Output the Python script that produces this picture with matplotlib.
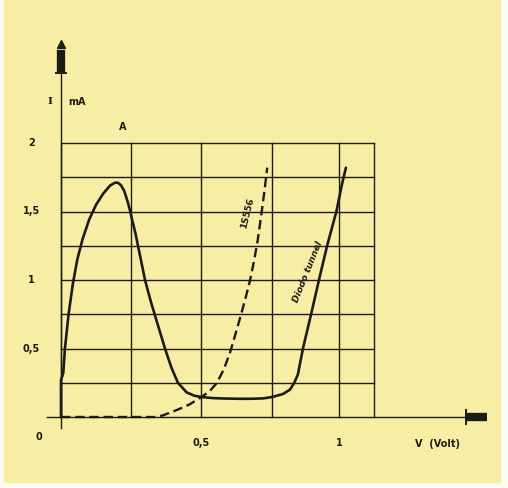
import numpy as np
import matplotlib.pyplot as plt
from matplotlib.patches import Rectangle

# tunnel diode characteristic (V in volt, I in mA)
tunnel_v = [0.0, 0.0, 0.008, 0.014, 0.027, 0.042, 0.058, 0.077, 0.100, 0.125,
            0.150, 0.175, 0.192, 0.203, 0.214, 0.225, 0.236, 0.244, 0.252,
            0.265, 0.280, 0.299, 0.320, 0.345, 0.370, 0.393, 0.416, 0.447,
            0.475, 0.500, 0.540, 0.580, 0.630, 0.680, 0.720, 0.752, 0.790,
            0.815, 0.830, 0.843, 0.861, 0.890, 0.918, 0.947, 0.980, 1.000, 1.014]
tunnel_i = [0.0, 0.27, 0.32, 0.5, 0.75, 0.97, 1.15, 1.30, 1.44, 1.55,
            1.63, 1.69, 1.71, 1.71, 1.69, 1.65, 1.58, 1.52, 1.45,
            1.34, 1.19, 1.0, 0.84, 0.67, 0.5, 0.36, 0.25, 0.18,
            0.155, 0.146, 0.138, 0.135, 0.133, 0.133, 0.136, 0.146, 0.168,
            0.2, 0.25, 0.31, 0.5, 0.75, 1.0, 1.25, 1.5, 1.7, 1.82]

# ordinary diode 1S556
diode_v = [0.0, 0.333, 0.360, 0.411, 0.456, 0.5, 0.53, 0.555, 0.580, 0.603,
           0.623, 0.641, 0.657, 0.673, 0.687, 0.700, 0.713, 0.724, 0.734]
diode_i = [0.0, 0.0, 0.01, 0.05, 0.09, 0.146, 0.19, 0.25, 0.35, 0.48,
           0.62, 0.75, 0.87, 1.0, 1.14, 1.29, 1.48, 1.65, 1.82]

grid_v = [0.0, 0.25, 0.5, 0.75, 0.99, 1.115]
grid_i = [0.0, 0.25, 0.5, 0.75, 1.0, 1.25, 1.5, 1.75, 2.0]

y_ticks = [2.0, 1.5, 1.0, 0.5]
y_labels = ['2', '1,5', '1', '0,5']
x_ticks = [0.5, 0.99]
x_labels = ['0,5', '1']

paper = '#f8eda4'
ink = '#1c1c16'

fig = plt.figure(figsize=(5.08, 4.88), dpi=100, facecolor='#fbfaf3')
fig.patches.append(Rectangle((4 / 508, 6 / 488), 496 / 508, 482 / 488,
                             transform=fig.transFigure, color=paper, zorder=-1))
ax = fig.add_axes([0, 0, 1, 1])
ax.set_xlim(-61 / 281, 447 / 281)
ax.set_ylim(-71 / 137, 417 / 137)
ax.axis('off')

# grid
for v in grid_v:
    ax.plot([v, v], [0, 2.0], color=ink, lw=1.0, zorder=1)
for i in grid_i[1:]:
    ax.plot([0, grid_v[-1]], [i, i], color=ink, lw=1.0, zorder=1)

# axes with arrow heads
ax.plot([-0.05, 1.44], [0, 0], color=ink, lw=1.0, zorder=2)
ax.plot([0, 0], [-0.08, 2.52], color=ink, lw=1.0, zorder=2)
ax.plot([0, 0], [2.52, 2.68], color=ink, lw=6, solid_capstyle='butt', zorder=3)
ax.plot([0], [2.72], marker='^', ms=6, color=ink, zorder=3)
ax.plot([-0.018, 0.018], [2.51, 2.51], color=ink, lw=1.4, zorder=3)
ax.plot([1.44, 1.515], [0, 0], color=ink, lw=6, solid_capstyle='butt', zorder=3)
ax.plot([1.44, 1.44], [-0.05, 0.05], color=ink, lw=1.4, zorder=3)

# curves
ax.plot(tunnel_v, tunnel_i, color=ink, lw=1.9, zorder=4,
        solid_joinstyle='round', solid_capstyle='round')
ax.plot(diode_v, diode_i, color=ink, lw=1.7, ls=(0, (4, 2)), zorder=4)

lbl = dict(fontsize=7, fontweight='bold', color=ink, ha='center', va='center')
for t, s in zip(y_ticks, y_labels):
    ax.text(-0.105, t, s, **lbl)
ax.text(-0.078, -0.146, '0', **lbl)
for t, s in zip(x_ticks, x_labels):
    ax.text(t, -0.19, s, **lbl)
ax.text(1.34, -0.2, 'V  (Volt)', **lbl)
ax.text(-0.039, 2.30, 'I', family='DejaVu Serif', fontsize=7.5,
        fontweight='bold', color=ink, ha='center', va='center')
ax.text(0.057, 2.30, 'mA', **lbl)
ax.text(0.22, 2.12, 'A', **lbl)
ax.text(0.662, 1.49, '1S556', rotation=76, fontsize=6.5, fontweight='bold',
        color=ink, ha='center', va='center')
ax.text(0.88, 1.06, 'Diodo tunnel', rotation=68, fontsize=6.5, fontweight='bold',
        style='italic', color=ink, ha='center', va='center')

fig.savefig('out.png', dpi=100, facecolor=fig.get_facecolor())
